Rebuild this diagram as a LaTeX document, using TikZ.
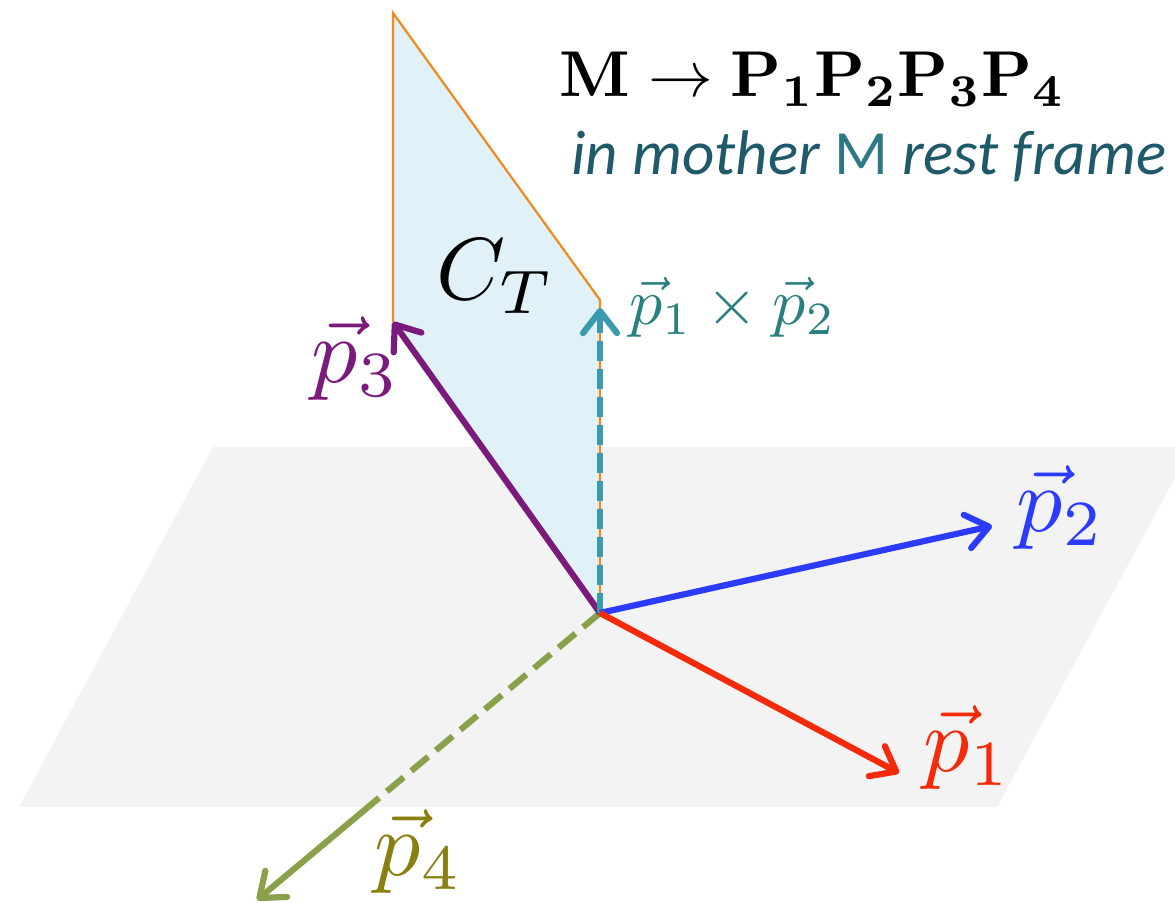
\documentclass[tikz,border=0pt]{standalone}
\usepackage[no-math]{fontspec}
\newfontfamily\carlito{Carlito}
\usetikzlibrary{arrows.meta,calc}
\definecolor{planeC}{HTML}{F3F3F3}
\definecolor{fillC}{HTML}{E1F1F8}
\definecolor{orangeC}{HTML}{F08A1E}
\definecolor{cP1}{HTML}{F52A0A}
\definecolor{cP2}{HTML}{2B3BFF}
\definecolor{cP3}{HTML}{7A1A7C}
\definecolor{cP4line}{HTML}{8AA04A}
\definecolor{cP4txt}{HTML}{8A8012}
\definecolor{cX}{HTML}{3A9AB0}
\definecolor{cXtxt}{HTML}{2A8080}
\definecolor{subC}{HTML}{1F5A6A}
\definecolor{subM}{HTML}{2E7787}
\tikzset{
  vecline/.style={line width=3.1pt},
  vectip/.style={-{Straight Barb[length=11pt,width=17pt,round]}},
  lab/.style={inner sep=0pt, anchor=base west, font=\normalsize, scale=4.6},
}
\begin{document}
\begin{tikzpicture}[x=0.5pt,y=-0.5pt]
\useasboundingbox (0,0) rectangle (1175,903);
% named points
\coordinate (O) at (600,613);
\coordinate (T1) at (899,773);
\coordinate (T2) at (992,526);
\coordinate (T3) at (393,322);
\coordinate (T4) at (257,900);
\coordinate (TX) at (600,308);
\coordinate (A) at (393,13);
\coordinate (B) at (600,300);
\coordinate (E4) at ($(O)!0.676!(T4)$);
% plane
\fill[planeC] (19,807) -- (997,807) -- (1175,478) -- (1175,447) -- (213,447) -- cycle;
% C_T region
\fill[fillC] (A) -- (B) -- (O) -- (T3) -- cycle;
\draw[orangeC, line width=1.1pt] (T3) -- (A) -- (B) -- (O);
% p4
\draw[vecline, cP4line, dash pattern=on 11pt off 5pt] (O) -- (E4);
\draw[vecline, cP4line, vectip] (E4) -- (T4);
% p3
\draw[vecline, cP3, vectip] (O) -- (T3);
% p1 x p2
\draw[vecline, cX, dash pattern=on 10pt off 4pt] (O) -- ($(TX)+(0,14)$);
\draw[vecline, cX, vectip] ($(TX)+(0,14)$) -- (TX);
% p2, p1
\draw[vecline, cP2, vectip] (O) -- (T2);
\draw[vecline, cP1, vectip] (O) -- (T1);
% labels
\node[lab, text=cP1] (l1) at (922,772) {$\vec{p}_1$};
\node[lab, text=cP2] (l2) at (1015,532) {$\vec{p}_2$};
\node[lab, text=cP3] (l3) at (310,383) {$\vec{p}_3$};
\node[lab, text=cP4txt] (l4) at (373,876) {$\vec{p}_4$};
\node[lab, text=cXtxt, scale=3.3/4.6] (lx) at (628,325) {$\vec{p}_1\times\vec{p}_2$};
\node[lab, scale=4.4/4.6] (ct) at (435,300) {$C_T$};
\node[inner sep=0pt, anchor=base west, font=\normalsize, scale=3.24] (title) at (558,97) {$\mathbf{M\rightarrow P_1P_2P_3P_4}$};
\node[inner sep=0pt, anchor=base west, text=subC, font=\carlito\fontsize{31.5}{35}\selectfont] (sub) at (571,175) {\itshape in mother \upshape\textcolor{subM}{M} \itshape rest frame};
\end{tikzpicture}
\end{document}
